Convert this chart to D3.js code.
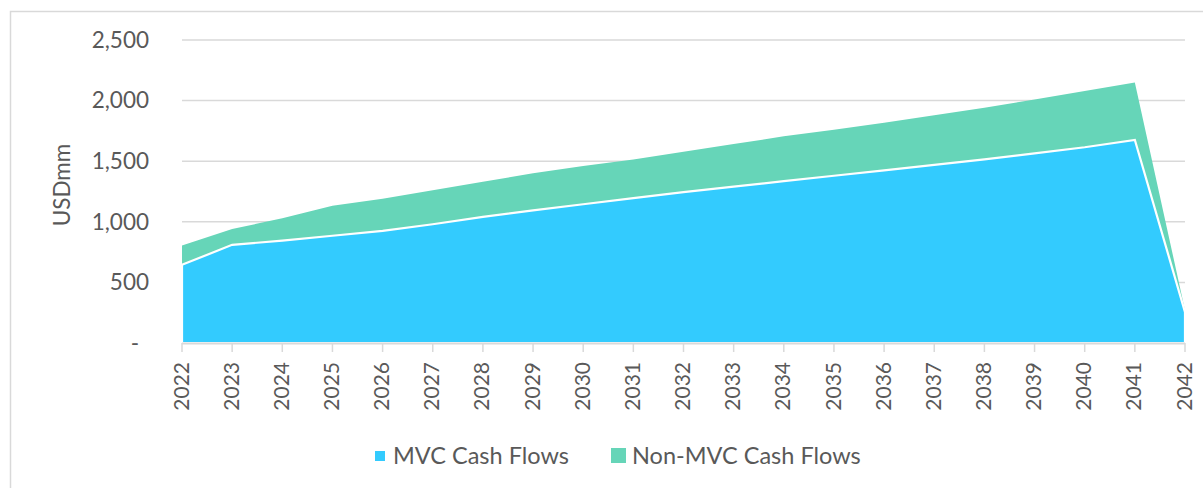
<!DOCTYPE html>
<html>
<head>
<meta charset="utf-8">
<script src="https://cdn.jsdelivr.net/npm/d3@7/dist/d3.min.js"></script>
<style>
  html, body { margin: 0; padding: 0; background: #fff; }
  svg { display: block; }
  text { font-family: Lato, "Open Sans", sans-serif; fill: #595959; }
</style>
</head>
<body>
<svg id="chart" width="1203" height="488"></svg>
<script>
const years = [2022, 2023, 2024, 2025, 2026, 2027, 2028, 2029, 2030, 2031, 2032,
               2033, 2034, 2035, 2036, 2037, 2038, 2039, 2040, 2041, 2042];
const mvcCashFlows = [645, 810, 845, 885, 925, 980, 1040, 1095, 1145, 1195, 1245,
                      1290, 1335, 1380, 1425, 1470, 1515, 1565, 1615, 1675, 255];
const nonMvcCashFlows = [160, 130, 185, 248, 265, 280, 290, 305, 315, 320, 332,
                         351, 370, 380, 393, 410, 426, 445, 465, 475, 15];
const yTicks = [0, 500, 1000, 1500, 2000, 2500];
const seriesNames = ["MVC Cash Flows", "Non-MVC Cash Flows"];
const seriesColors = ["#33CBFE", "#66D5B8"];

const svg = d3.select("#chart");

// outer chart border
svg.append("rect")
  .attr("x", 10.5).attr("y", 11.5)
  .attr("width", 1220).attr("height", 500)
  .attr("fill", "none").attr("stroke", "#d9d9d9").attr("stroke-width", 1.5);

const x = d3.scaleLinear().domain([years[0], years[years.length - 1]]).range([182, 1185]);
const y = d3.scaleLinear().domain([0, 2500]).range([343, 40]);

// gridlines
svg.append("g").selectAll("line")
  .data(yTicks.filter(d => d > 0))
  .join("line")
  .attr("x1", 182).attr("x2", 1185)
  .attr("y1", d => y(d)).attr("y2", d => y(d))
  .attr("stroke", "#d9d9d9").attr("stroke-width", 1.5);

// y labels
const fmt = d3.format(",");
svg.append("g").selectAll("text")
  .data(yTicks)
  .join("text")
  .attr("x", d => d === 0 ? 139 : 149)
  .attr("y", d => y(d))
  .attr("dy", "0.35em")
  .attr("text-anchor", "end")
  .style("font-size", "22.5px")
  .text(d => d === 0 ? "-" : fmt(d));

// stacked data
const table = years.map((yr, i) => ({ year: yr, mvc: mvcCashFlows[i], non: nonMvcCashFlows[i] }));
const stack = d3.stack().keys(["mvc", "non"]);
const stacked = stack(table);

const area = d3.area()
  .x(d => x(d.data.year))
  .y0(d => y(d[0]))
  .y1(d => y(d[1]));

svg.append("path")
  .datum(stacked[1])
  .attr("d", area)
  .attr("fill", seriesColors[1]);

svg.append("path")
  .datum(stacked[0])
  .attr("d", area)
  .attr("fill", seriesColors[0])
  .attr("stroke", "#ffffff")
  .attr("stroke-width", 2.2)
  .attr("stroke-linejoin", "miter");

// x axis line and ticks
svg.append("line")
  .attr("x1", 182).attr("x2", 1185)
  .attr("y1", 343.5).attr("y2", 343.5)
  .attr("stroke", "#d9d9d9").attr("stroke-width", 1.8);

svg.append("g").selectAll("line")
  .data(years)
  .join("line")
  .attr("x1", d => x(d)).attr("x2", d => x(d))
  .attr("y1", 343).attr("y2", 352)
  .attr("stroke", "#d9d9d9").attr("stroke-width", 1.5);

svg.append("g").selectAll("text")
  .data(years)
  .join("text")
  .attr("transform", d => `translate(${x(d) - 1},362) rotate(-90)`)
  .attr("text-anchor", "end")
  .attr("dy", "0.36em")
  .style("font-size", "21px")
  .text(d => d);

// y axis title
svg.append("text")
  .attr("transform", "translate(62,185) rotate(-90)")
  .attr("text-anchor", "middle")
  .attr("dy", "0.36em")
  .style("font-size", "22.5px")
  .text("USDmm");

// legend
const legend = svg.append("g");
legend.append("rect").attr("x", 375).attr("y", 451).attr("width", 10).attr("height", 10).attr("fill", seriesColors[0]);
legend.append("text").attr("x", 393).attr("y", 464).style("font-size", "23.5px").text(seriesNames[0]);
legend.append("rect").attr("x", 611).attr("y", 448).attr("width", 15).attr("height", 15).attr("fill", seriesColors[1]);
legend.append("text").attr("x", 632).attr("y", 464).style("font-size", "23.5px").text(seriesNames[1]);
</script>
</body>
</html>
